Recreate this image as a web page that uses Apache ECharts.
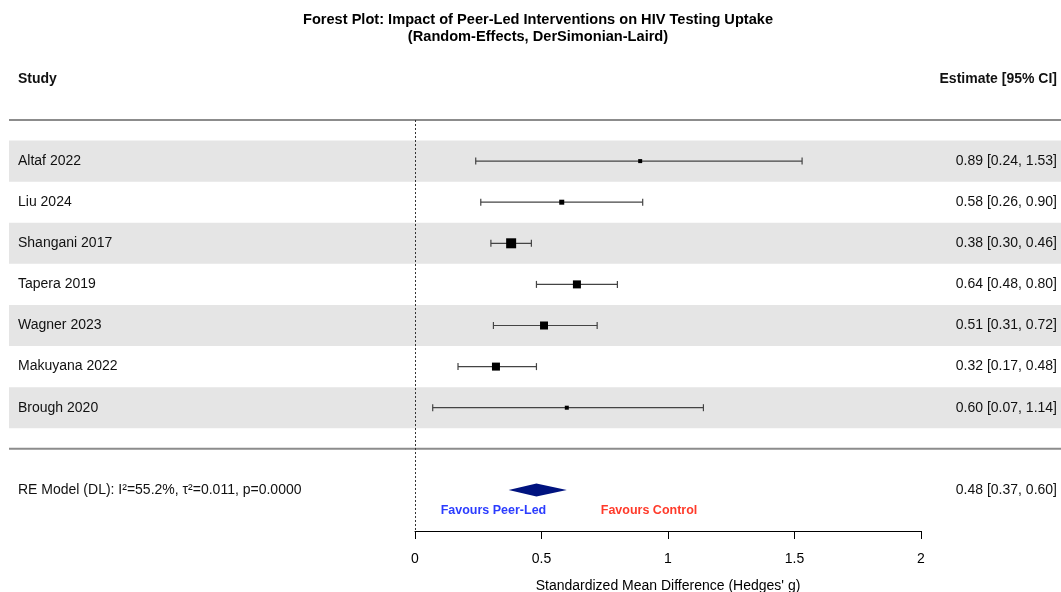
<!DOCTYPE html>
<html>
<head>
<meta charset="utf-8">
<script src="https://cdn.jsdelivr.net/npm/echarts@6/dist/echarts.min.js"></script>
<style>
html,body{margin:0;padding:0;background:#fff;}
#chart{width:1061px;height:592px;}
</style>
</head>
<body>
<div id="chart"></div>
<script>
const studies = ['Altaf 2022', 'Liu 2024', 'Shangani 2017', 'Tapera 2019', 'Wagner 2023', 'Makuyana 2022', 'Brough 2020'];
const estimates = [0.89, 0.58, 0.38, 0.64, 0.51, 0.32, 0.60];
const lowerCI = [0.24, 0.26, 0.30, 0.48, 0.31, 0.17, 0.07];
const upperCI = [1.53, 0.90, 0.46, 0.80, 0.72, 0.48, 1.14];
const boxSizes = [4, 5, 10, 8, 8, 8, 4];
const pooledLabel = 'RE Model (DL): I\u00b2=55.2%, \u03c4\u00b2=0.011, p=0.0000';
const pooledEstimate = [0.48];
const pooledLower = [0.37];
const pooledUpper = [0.60];
const xTicks = [0, 0.5, 1, 1.5, 2];
const titleLines = ['Forest Plot: Impact of Peer-Led Interventions on HIV Testing Uptake', '(Random-Effects, DerSimonian-Laird)'];

const FONT = '"Liberation Sans", Arial, Helvetica, sans-serif';
const LEFT_X = 18, RIGHT_X = 1057, LINE_X0 = 9, LINE_X1 = 1061;
const fmt = v => v.toFixed(2);

const rows = studies.map((s, i) => ({
  name: s, idx: i + 1, est: estimates[i], lo: lowerCI[i], hi: upperCI[i], size: boxSizes[i]
}));
const pooledRow = 9;

const chart = echarts.init(document.getElementById('chart'), null, {renderer: 'canvas'});

const textData = rows.map(r => [r.idx, r.name, fmt(r.est) + ' [' + fmt(r.lo) + ', ' + fmt(r.hi) + ']', 0])
  .concat([[-1, 'Study', 'Estimate [95% CI]', 1]])
  .concat(pooledEstimate.map((e, i) => [pooledRow, pooledLabel,
    fmt(e) + ' [' + fmt(pooledLower[i]) + ', ' + fmt(pooledUpper[i]) + ']', 0]));
const favoursData = [[0.31, 9.5, 'Favours Peer-Led', '#2b3cff'], [0.925, 9.5, 'Favours Control', '#ff3a2a']];

const option = {
  animation: false,
  backgroundColor: '#fff',
  graphic: titleLines.map((t, i) => ({
    type: 'text', x: 538, y: 20 + i * 17,
    style: {text: t, fontFamily: FONT, fontSize: 14.6, fontWeight: 'bold', fill: '#000',
      align: 'center', verticalAlign: 'middle'}
  })),
  grid: {left: 415, right: 140, top: 120, bottom: 61, outerBoundsMode: 'none', containLabel: false},
  xAxis: {
    type: 'value', min: xTicks[0], max: xTicks[xTicks.length - 1], interval: 0.5,
    position: 'bottom',
    axisLine: {show: true, onZero: false, lineStyle: {color: '#000', width: 1}},
    axisTick: {show: true, inside: false, length: 8, lineStyle: {color: '#000'}},
    axisLabel: {fontFamily: FONT, fontSize: 14, color: '#000', margin: 21,
      formatter: v => String(v)},
    splitLine: {show: false},
    name: 'Standardized Mean Difference (Hedges\' g)',
    nameLocation: 'middle', nameGap: 48,
    nameTextStyle: {fontFamily: FONT, fontSize: 14, color: '#000'}
  },
  yAxis: {type: 'value', min: 0, max: 10, inverse: true, show: false},
  series: [
    {
      type: 'custom', z: 1, clip: false,
      data: rows.filter(r => r.idx % 2 === 1).map(r => [0, r.idx]),
      renderItem: (params, api) => {
        const y0 = api.coord([0, api.value(1) - 0.5])[1];
        const y1 = api.coord([0, api.value(1) + 0.5])[1];
        return {type: 'rect', shape: {x: LINE_X0, y: y0, width: LINE_X1 - LINE_X0, height: y1 - y0},
          style: {fill: '#e5e5e5'}};
      }
    },
    {
      type: 'custom', z: 3, clip: false,
      data: [[0, 0], [0, 8]],
      renderItem: (params, api) => {
        const y = api.coord([0, api.value(1)])[1];
        return {type: 'line', shape: {x1: LINE_X0, y1: y, x2: LINE_X1, y2: y},
          style: {stroke: '#8c8c8c', lineWidth: 2}};
      }
    },
    {
      type: 'line', data: [], z: 2,
      markLine: {
        silent: true, symbol: 'none', label: {show: false},
        lineStyle: {type: [2, 2], color: '#333', width: 1},
        data: [{xAxis: 0}]
      }
    },
    {
      type: 'custom', z: 5, clip: false,
      data: rows.map(r => [r.est, r.idx, r.lo, r.hi, r.size]),
      renderItem: (params, api) => {
        const y = api.coord([0, api.value(1)])[1];
        const xe = api.coord([api.value(0), 0])[0];
        const xl = api.coord([api.value(2), 0])[0];
        const xh = api.coord([api.value(3), 0])[0];
        const s = api.value(4);
        const st = {stroke: '#444', lineWidth: 1.2};
        return {type: 'group', children: [
          {type: 'line', shape: {x1: xl, y1: y, x2: xh, y2: y}, style: st},
          {type: 'line', shape: {x1: xl, y1: y - 3.5, x2: xl, y2: y + 3.5}, style: st},
          {type: 'line', shape: {x1: xh, y1: y - 3.5, x2: xh, y2: y + 3.5}, style: st},
          {type: 'rect', shape: {x: xe - s / 2, y: y - s / 2, width: s, height: s}, style: {fill: '#000'}}
        ]};
      }
    },
    {
      type: 'custom', z: 5, clip: false,
      data: pooledEstimate.map((e, i) => [e, pooledRow, pooledLower[i], pooledUpper[i]]),
      renderItem: (params, api) => {
        const y = api.coord([0, api.value(1)])[1];
        const xe = api.coord([api.value(0), 0])[0];
        const xl = api.coord([api.value(2), 0])[0];
        const xh = api.coord([api.value(3), 0])[0];
        return {type: 'polygon', shape: {points: [[xl, y], [xe, y - 6.5], [xh, y], [xe, y + 6.5]]},
          style: {fill: '#00137f'}};
      }
    },
    {
      type: 'custom', z: 6, clip: false,
      data: textData.map((t, i) => [0, t[0], i]),
      renderItem: (params, api) => {
        const item = textData[params.dataIndex];
        const y = api.coord([0, item[0]])[1];
        const w = item[3] ? 'bold' : 'normal';
        const base = {fontFamily: FONT, fontSize: 14, fontWeight: w, fill: '#111', verticalAlign: 'middle'};
        return {type: 'group', children: [
          {type: 'text', style: Object.assign({}, base, {x: LEFT_X, y: y, text: item[1], align: 'left'})},
          {type: 'text', style: Object.assign({}, base, {x: RIGHT_X, y: y, text: item[2], align: 'right'})}
        ]};
      }
    },
    {
      type: 'custom', z: 6, clip: false,
      data: favoursData.map(f => [f[0], f[1]]),
      renderItem: (params, api) => {
        const item = favoursData[params.dataIndex];
        const p = api.coord([item[0], item[1]]);
        return {type: 'text', style: {x: p[0], y: p[1], text: item[2], fill: item[3],
          fontFamily: FONT, fontSize: 12.5, fontWeight: 'bold', align: 'center', verticalAlign: 'middle'}};
      }
    }
  ]
};
chart.setOption(option);
</script>
</body>
</html>
